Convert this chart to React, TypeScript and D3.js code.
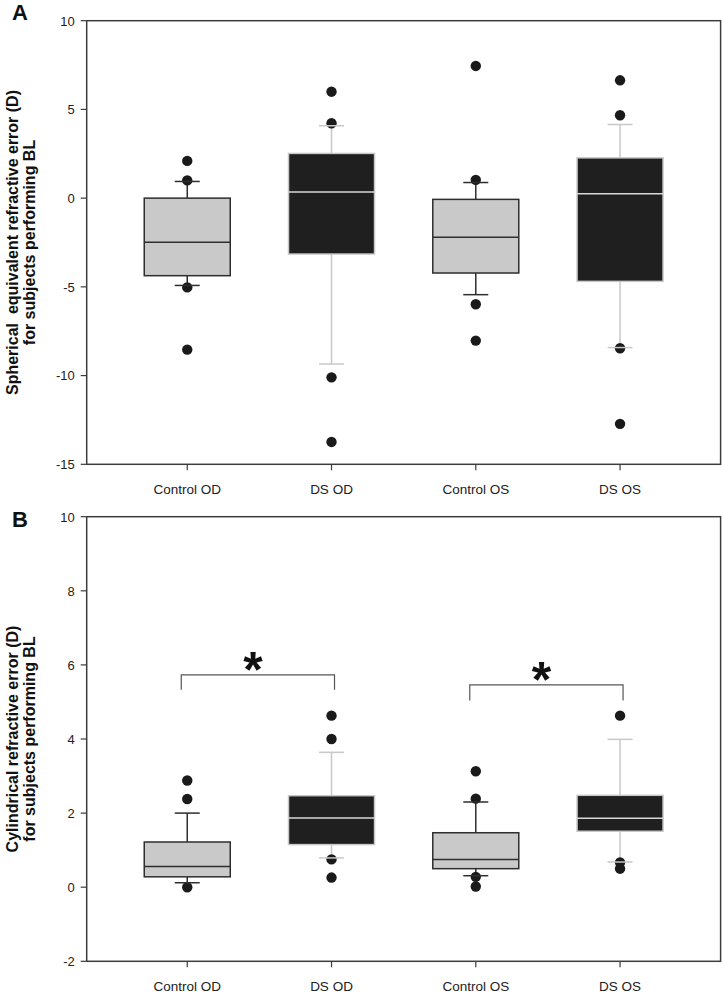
import React from "react";
import * as d3 from "d3";

const categories = ["Control OD", "DS OD", "Control OS", "DS OS"];
const groupKind = ["control", "ds", "control", "ds"];

// Panel A: spherical equivalent refractive error
const aQ1 = [-4.37, -3.15, -4.22, -4.69];
const aMedian = [-2.48, 0.34, -2.21, 0.25];
const aQ3 = [0.0, 2.52, -0.07, 2.27];
const aWhiskerLow = [-4.92, -9.35, -5.44, -8.42];
const aWhiskerHigh = [0.94, 4.08, 0.88, 4.15];
const aOutliers = [
  [2.1, 1.0, -5.03, -8.54],
  [6.0, 4.22, -10.1, -13.74],
  [7.45, 1.03, -5.98, -8.03],
  [6.64, 4.67, -8.46, -12.72],
];
const aTicks = [-15, -10, -5, 0, 5, 10];

// Panel B: cylindrical refractive error
const bQ1 = [0.28, 1.15, 0.5, 1.51];
const bMedian = [0.56, 1.87, 0.75, 1.86];
const bQ3 = [1.22, 2.47, 1.47, 2.48];
const bWhiskerLow = [0.12, 0.79, 0.31, 0.68];
const bWhiskerHigh = [2.0, 3.64, 2.3, 3.99];
const bOutliers = [
  [2.88, 2.38, 0.0],
  [4.63, 4.0, 0.75, 0.26],
  [3.13, 2.39, 0.28, 0.02],
  [4.63, 0.67, 0.5],
];
const bTicks = [-2, 0, 2, 4, 6, 8, 10];
const bBrackets = [
  { from: 0, to: 1, top: 5.73, end: 5.33 },
  { from: 2, to: 3, top: 5.46, end: 5.04 },
];

const W = 723;
const H = 993;
const LEFT = 86.7;
const RIGHT = 720.6;
const FONT = "'Liberation Sans', Arial, Helvetica, sans-serif";
const FRAME = "#3c3c3c";

const x = d3.scalePoint<string>().domain(categories).range([LEFT, RIGHT]).padding(0.697);

type PanelProps = {
  top: number;
  bottom: number;
  domain: [number, number];
  ticks: number[];
  q1: number[];
  med: number[];
  q3: number[];
  wl: number[];
  wh: number[];
  outliers: number[][];
  title1: string;
  title2: string;
  letter: string;
  letterY: number;
  brackets?: { from: number; to: number; top: number; end: number }[];
};

function Panel(p: PanelProps) {
  const y = d3.scaleLinear().domain(p.domain).range([p.bottom, p.top]);
  const boxW = 86;
  const capW = 25;
  const mid = (p.top + p.bottom) / 2;
  return (
    <g>
      <text x={12} y={p.letterY} fontFamily={FONT} fontWeight="bold" fontSize={22} fill="#111">
        {p.letter}
      </text>
      <text
        transform={`translate(18,${mid}) rotate(-90)`}
        textAnchor="middle"
        fontFamily={FONT}
        fontWeight="bold"
        fontSize={16}
        fill="#111"
        style={{ whiteSpace: "pre" }}
      >
        {p.title1}
      </text>
      <text
        transform={`translate(35,${mid}) rotate(-90)`}
        textAnchor="middle"
        fontFamily={FONT}
        fontWeight="bold"
        fontSize={16}
        fill="#111"
      >
        {p.title2}
      </text>
      {/* y ticks */}
      {p.ticks.map((t) => (
        <g key={t}>
          <line x1={LEFT - 6} x2={LEFT} y1={y(t)} y2={y(t)} stroke={FRAME} strokeWidth={1.2} />
          <text
            x={LEFT - 12}
            y={y(t) + 4.8}
            textAnchor="end"
            fontFamily={FONT}
            fontSize={13}
            fill="#222"
          >
            {t}
          </text>
        </g>
      ))}
      {/* x ticks */}
      {categories.map((c) => (
        <g key={c}>
          <line x1={x(c)} x2={x(c)} y1={p.bottom} y2={p.bottom + 6} stroke={FRAME} strokeWidth={1.2} />
          <text
            x={x(c)}
            y={p.bottom + 29.5}
            textAnchor="middle"
            fontFamily={FONT}
            fontSize={13.5}
            fill="#222"
          >
            {c}
          </text>
        </g>
      ))}
      {/* boxes */}
      {categories.map((c, i) => {
        const cx = x(c) as number;
        const ds = groupKind[i] === "ds";
        const fill = ds ? "#1f1f1f" : "#c9c9c9";
        const stroke = ds ? "#c8c8c8" : "#2e2e2e";
        const medStroke = ds ? "#d8d8d8" : "#2e2e2e";
        return (
          <g key={c}>
            <line x1={cx} x2={cx} y1={y(p.wh[i])} y2={y(p.q3[i])} stroke={stroke} strokeWidth={1.5} />
            <line x1={cx} x2={cx} y1={y(p.q1[i])} y2={y(p.wl[i])} stroke={stroke} strokeWidth={1.5} />
            <rect
              x={cx - boxW / 2}
              y={y(p.q3[i])}
              width={boxW}
              height={y(p.q1[i]) - y(p.q3[i])}
              fill={fill}
              stroke={stroke}
              strokeWidth={1.5}
            />
            <line x1={cx - boxW / 2} x2={cx + boxW / 2} y1={y(p.med[i])} y2={y(p.med[i])} stroke={medStroke} strokeWidth={1.5} />
            {p.outliers[i].map((v, k) => (
              <circle key={k} cx={cx} cy={y(v)} r={5.2} fill="#1a1a1a" />
            ))}
            <line x1={cx - capW / 2} x2={cx + capW / 2} y1={y(p.wh[i])} y2={y(p.wh[i])} stroke={stroke} strokeWidth={1.5} />
            <line x1={cx - capW / 2} x2={cx + capW / 2} y1={y(p.wl[i])} y2={y(p.wl[i])} stroke={stroke} strokeWidth={1.5} />
          </g>
        );
      })}
      {/* significance brackets */}
      {(p.brackets || []).map((b, k) => {
        const x1 = (x(categories[b.from]) as number) - 6;
        const x2 = (x(categories[b.to]) as number) + 3;
        const yt = y(b.top);
        const ye = y(b.end);
        return (
          <g key={k}>
            <path
              d={`M${x1},${ye}V${yt}H${x2}V${ye}`}
              fill="none"
              stroke="#555"
              strokeWidth={1.2}
            />
            <text
              x={(x1 + x2) / 2 - 5}
              y={yt + 12}
              textAnchor="middle"
              fontFamily={FONT}
              fontWeight="bold"
              fontSize={50}
              fill="#111"
            >
              *
            </text>
          </g>
        );
      })}
      {/* frame */}
      <rect x={LEFT} y={p.top} width={RIGHT - LEFT} height={p.bottom - p.top} fill="none" stroke={FRAME} strokeWidth={1.5} />
    </g>
  );
}

export default function App() {
  return (
    <svg
      width={W}
      height={H}
      viewBox={`0 0 ${W} ${H}`}
      style={{ position: "absolute", left: 0, top: 0, background: "#fff" }}
    >
      <rect x={0} y={0} width={W} height={H} fill="#fff" />
      <Panel
        top={20.7}
        bottom={464.3}
        domain={[-15, 10]}
        ticks={aTicks}
        q1={aQ1}
        med={aMedian}
        q3={aQ3}
        wl={aWhiskerLow}
        wh={aWhiskerHigh}
        outliers={aOutliers}
        title1={"Spherical  equivalent refractive error (D)"}
        title2={"for subjects performing BL"}
        letter="A"
        letterY={20}
      />
      <Panel
        top={516.7}
        bottom={961.3}
        domain={[-2, 10]}
        ticks={bTicks}
        q1={bQ1}
        med={bMedian}
        q3={bQ3}
        wl={bWhiskerLow}
        wh={bWhiskerHigh}
        outliers={bOutliers}
        title1={"Cylindrical refractive error (D)"}
        title2={"for subjects performing BL"}
        letter="B"
        letterY={527}
        brackets={bBrackets}
      />
    </svg>
  );
}
